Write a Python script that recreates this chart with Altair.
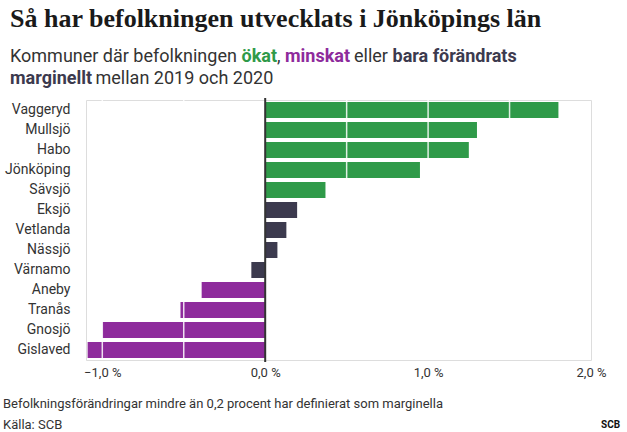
import altair as alt
import pandas as pd

kommuner = ["Vaggeryd", "Mullsjö", "Habo", "Jönköping", "Sävsjö", "Eksjö", "Vetlanda",
            "Nässjö", "Värnamo", "Aneby", "Tranås", "Gnosjö", "Gislaved"]
forandring = [1.80, 1.30, 1.25, 0.95, 0.37, 0.196, 0.13, 0.075, -0.085, -0.39, -0.52, -1.0, -1.09]
grupp = ["ökat", "ökat", "ökat", "ökat", "ökat", "marginellt", "marginellt", "marginellt",
         "marginellt", "minskat", "minskat", "minskat", "minskat"]
x_ticks = [-1.0, 0.0, 1.0, 2.0]
grid_lines = [-1.0, -0.5, 0.5, 1.0, 1.5]

GREEN = "#2f9a49"
DARK = "#3c3a4e"
PURPLE = "#8e2b9c"
TEXT = "#333333"

df = pd.DataFrame({"kommun": kommuner, "varde": forandring, "grupp": grupp})
grid_df = pd.DataFrame({"g": grid_lines})

W, H = 505, 260

xscale = alt.Scale(domain=[-1.1, 2.0], nice=False, zero=False)

bars = alt.Chart(df).mark_bar(cornerRadius=0).encode(
    x=alt.X("varde:Q", scale=xscale,
            axis=alt.Axis(values=x_ticks, title=None, grid=False, domain=False, ticks=False,
                          labelFontSize=13, labelColor=TEXT, labelFont="Roboto",
                          labelPadding=6, labelFlush=False,
                          labelExpr="replace(replace(format(datum.value, '.1f'), '.', ','), '-', '\u2212') + ' %'")),
    x2=alt.datum(0),
    y=alt.Y("kommun:N", sort=kommuner,
            scale=alt.Scale(paddingInner=0.2, paddingOuter=0.1),
            axis=alt.Axis(title=None, ticks=False, domain=False, labelFontSize=14,
                          labelColor=TEXT, labelFont="Roboto", labelPadding=16)),
    color=alt.Color("grupp:N", scale=alt.Scale(domain=["ökat", "marginellt", "minskat"],
                                               range=[GREEN, DARK, PURPLE]), legend=None),
)

grid = alt.Chart(grid_df).mark_rule(color="white", strokeWidth=1.5, opacity=0.85).encode(
    x=alt.X("g:Q", scale=xscale),
    y=alt.value(0), y2=alt.value(H),
)

zero = alt.Chart(pd.DataFrame({"z": [0.0]})).mark_rule(color="#333333", strokeWidth=2).encode(
    x=alt.X("z:Q", scale=xscale),
    y=alt.value(-2), y2=alt.value(H + 2),
)

def txt(s, x, y, size=18, weight="normal", color=TEXT, font="Roboto"):
    return alt.Chart(pd.DataFrame({"t": [s]})).mark_text(
        align="left", baseline="alphabetic", fontSize=size, fontWeight=weight,
        color=color, font=font,
    ).encode(text="t:N", x=alt.value(x), y=alt.value(y))

OX, OY = 86, 100
L1, L2 = 62, 84

texts = [
    txt("Så har befolkningen utvecklats i Jönköpings län", 10 - OX, 27 - OY, size=26,
        weight="bold", color="#1a1a1a", font="Liberation Serif"),
    txt("Kommuner där befolkningen", 10 - OX, L1 - OY),
    txt("ökat", 241.5 - OX, L1 - OY, weight="bold", color=GREEN),
    txt(",", 277 - OX, L1 - OY),
    txt("minskat", 285 - OX, L1 - OY, weight="bold", color=PURPLE),
    txt("eller", 354 - OX, L1 - OY),
    txt("bara förändrats", 392.5 - OX, L1 - OY, weight="bold", color=DARK),
    txt("marginellt", 10 - OX, L2 - OY, weight="bold", color=DARK),
    txt("mellan 2019 och 2020", 95.5 - OX, L2 - OY),
    txt("Befolkningsförändringar mindre än 0,2 procent har definierat som marginella",
        3 - OX, 408 - OY, size=13),
    txt("Källa: SCB", 3 - OX, 429 - OY, size=13),
    txt("SCB", 601 - OX, 428 - OY, size=10, weight="bold", color="#111111"),
]

chart = alt.layer(bars, grid, zero, *texts).properties(
    width=W, height=H,
    autosize=alt.AutoSizeParams(type="none"),
    padding={"left": OX, "top": OY, "right": 627 - OX - W, "bottom": 432 - OY - H},
).configure_view(stroke=None).configure(background="white")

chart.save("out.html", embed_options={"renderer": "svg", "actions": False})
